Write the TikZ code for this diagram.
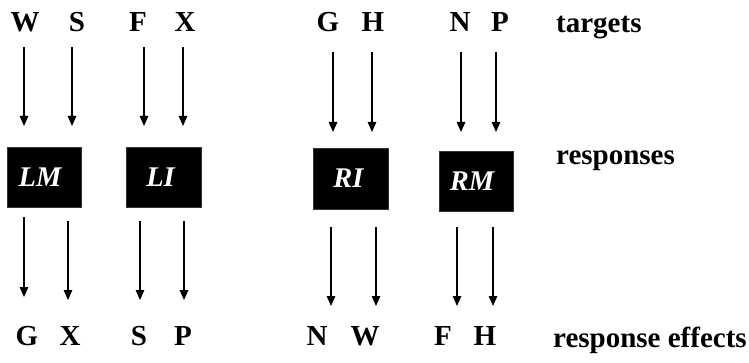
\documentclass[tikz,border=0pt]{standalone}
\usepackage{fontspec}
\setmainfont{Liberation Serif}
\usetikzlibrary{arrows.meta}
\tikzset{
  lbl/.style={font=\fontsize{29}{32}\selectfont\bfseries, inner sep=0pt, anchor=base},
  resp/.style={fill=black, draw=black!80, line width=0.6pt, inner sep=0pt},
  resptxt/.style={font=\fontsize{28.5}{32}\selectfont\bfseries\itshape, text=white, inner sep=0pt},
  arr/.style={line width=1.3pt, -{Triangle[length=10pt, width=8.5pt]}},
}
\begin{document}
\begin{tikzpicture}[x=1pt, y=-1pt]
  \useasboundingbox (0,0) rectangle (749,363);

  % target letters
  \foreach \n/\t/\x in {tW/W/25, tS/S/77, tF/F/138, tX/X/185, tG/G/328, tH/H/373, tN/N/460, tP/P/500}
    \node[lbl] (\n) at (\x,32) {\t};

  % effect letters
  \foreach \n/\t/\x in {eG/G/27, eX/X/70, eS/S/139, eP/P/183, eN/N/317, eW/W/365, eF/F/443, eH/H/485}
    \node[lbl] (\n) at (\x,345) {\t};

  % response boxes
  \path[resp] (7,147) rectangle (81,207) coordinate[pos=0.5] (cLM);
  \path[resp] (126,147) rectangle (201,207) coordinate[pos=0.5] (cLI);
  \path[resp] (313,148) rectangle (388,209) coordinate[pos=0.5] (cRI);
  \path[resp] (439,151) rectangle (513,211) coordinate[pos=0.5] (cRM);
  \node[resptxt] (LM) at ([xshift=-4pt]cLM) {LM};
  \node[resptxt] (LI) at ([xshift=-3pt]cLI) {LI};
  \node[resptxt] (RI) at ([xshift=-2pt]cRI) {RI};
  \node[resptxt] (RM) at ([xshift=-4pt]cRM) {RM};

  % row labels
  \node[lbl, anchor=base west] (targets) at (556,33) {targets};
  \node[lbl, anchor=base west] (responses) at (556,165) {responses};
  \node[lbl, anchor=base west] (effects) at (553,347) {response effects};

  % arrows from targets into the responses
  \foreach \n/\x/\a/\b in {1/24/47/126, 2/72/47/126, 3/144/47/126, 4/183/47/126,
                           5/333/52/132, 6/372/52/132, 7/461/52/132, 8/496/52/132} {
    \coordinate (in\n) at (\x,\a);
    \coordinate (to\n) at (\x,\b);
    \draw[arr] (in\n) -- (to\n);
  }

  % arrows from the responses to their effects
  \foreach \n/\x/\a/\b in {1/24/217/297, 2/68/221/300, 3/140/221/300, 4/184/221/300,
                           5/331/227/306, 6/376/227/306, 7/457/227/306, 8/493/227/306} {
    \coordinate (out\n) at (\x,\a);
    \coordinate (fx\n) at (\x,\b);
    \draw[arr] (out\n) -- (fx\n);
  }
\end{tikzpicture}
\end{document}
